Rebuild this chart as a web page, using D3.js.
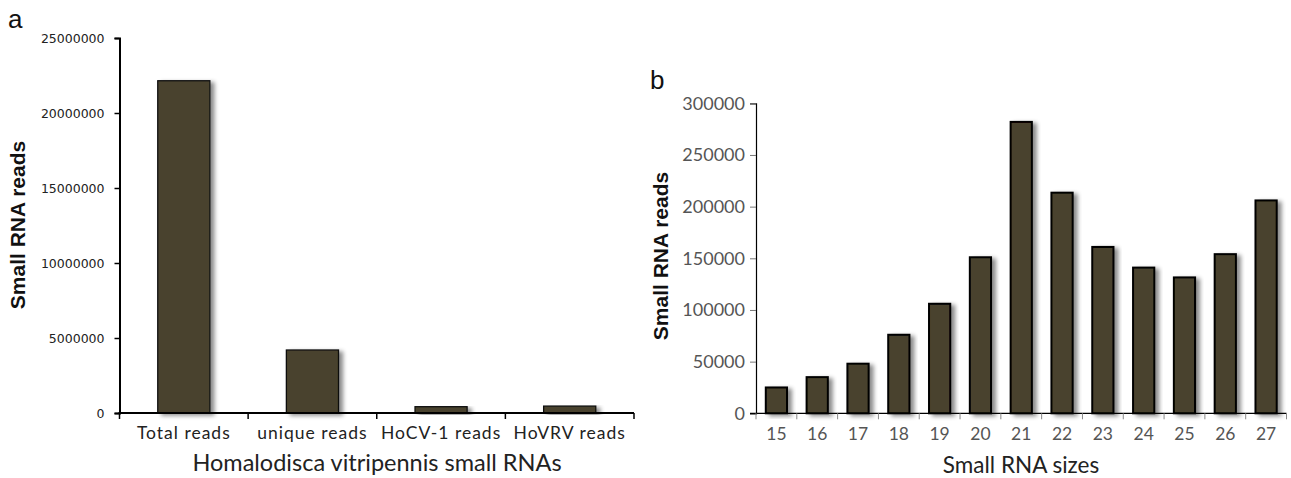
<!DOCTYPE html>
<html>
<head>
<meta charset="utf-8">
<script src="https://cdn.jsdelivr.net/npm/d3@7/dist/d3.min.js"></script>
<style>
  body { margin: 0; background: #fff; }
  svg { display: block; }
</style>
</head>
<body>
<svg id="chart" width="1291" height="478"></svg>
<script>
// Panel a data
const catsA = ["Total reads", "unique reads", "HoCV-1 reads", "HoVRV reads"];
const valsA = [22150000, 4200000, 420000, 460000];
const ticksA = [0, 5000000, 10000000, 15000000, 20000000, 25000000];

// Panel b data
const sizesB = ["15", "16", "17", "18", "19", "20", "21", "22", "23", "24", "25", "26", "27"];
const valsB = [25000, 35000, 48000, 76000, 106000, 151000, 282000, 213500, 161000, 141000, 131500, 154000, 206000];
const ticksB = [0, 50000, 100000, 150000, 200000, 250000, 300000];

const svg = d3.select("#chart");
const defs = svg.append("defs");
const f = defs.append("filter").attr("id", "shadow")
  .attr("x", "-20%").attr("y", "-10%").attr("width", "160%").attr("height", "130%");
f.append("feDropShadow").attr("dx", 4).attr("dy", 2).attr("stdDeviation", 2.2)
  .attr("flood-color", "#000").attr("flood-opacity", 0.45);

const barFill = "#4a432d";

// ---------- Panel a ----------
{
  const x = d3.scaleBand().domain(catsA).range([119.5, 634]).paddingInner(0.595).paddingOuter(0.2975);
  const xb = d3.scaleBand().domain(catsA).range([119.5, 634]);
  const y = d3.scaleLinear().domain([0, 25000000]).range([413, 38]);
  const g = svg.append("g");

  g.selectAll("rect.bar").data(valsA).join("rect")
    .attr("class", "bar")
    .attr("x", (d, i) => x(catsA[i]))
    .attr("width", x.bandwidth())
    .attr("y", d => y(d))
    .attr("height", d => y(0) - y(d))
    .attr("fill", barFill)
    .attr("stroke", "#111").attr("stroke-width", 1.3)
    .attr("filter", "url(#shadow)");

  const yAxis = g.append("g").attr("transform", "translate(119.5,0)")
    .call(d3.axisLeft(y).tickValues(ticksA).tickSize(5).tickPadding(10).tickFormat(d3.format("d")));
  yAxis.select(".domain").attr("stroke", "#000").attr("stroke-width", 2);
  yAxis.selectAll(".tick line").attr("stroke", "#000").attr("stroke-width", 1.5);
  yAxis.selectAll(".tick text").attr("font-family", "DejaVu Sans, sans-serif")
    .attr("font-size", 12.5).attr("fill", "#222");

  // x axis
  const xAxis = g.append("g").attr("transform", "translate(0,413)");
  xAxis.append("line").attr("x1", 118.5).attr("x2", 634).attr("stroke", "#000").attr("stroke-width", 2);
  const bounds = catsA.map(c => xb(c)).concat([xb.range()[1]]);
  xAxis.selectAll("line.tk").data(bounds).join("line").attr("class", "tk")
    .attr("x1", d => d).attr("x2", d => d).attr("y1", 0).attr("y2", 6)
    .attr("stroke", "#000").attr("stroke-width", 1.5);
  xAxis.selectAll("text").data(catsA).join("text")
    .attr("x", d => xb(d) + xb.bandwidth() / 2).attr("y", 25.5)
    .attr("text-anchor", "middle")
    .attr("font-family", "Lato, sans-serif").attr("font-size", 17.5)
    .attr("letter-spacing", 1).attr("fill", "#222")
    .text(d => d);

  g.append("text").attr("x", 377).attr("y", 470.5).attr("text-anchor", "middle")
    .attr("font-family", "Lato, sans-serif").attr("font-size", 23.5).attr("fill", "#222")
    .text("Homalodisca vitripennis small RNAs");

  g.append("text").attr("transform", "translate(25,225) rotate(-90)").attr("text-anchor", "middle")
    .attr("font-family", "Liberation Sans, Arial, sans-serif").attr("font-weight", "bold")
    .attr("font-size", 21).attr("fill", "#111").text("Small RNA reads");

  g.append("text").attr("x", 8).attr("y", 28)
    .attr("font-family", "Liberation Sans, Arial, sans-serif").attr("font-size", 26).attr("fill", "#111").text("a");
}

// ---------- Panel b ----------
{
  const xb = d3.scaleBand().domain(sizesB).range([756, 1286.5]);
  const x = d3.scaleBand().domain(sizesB).range([756, 1286.5]).paddingInner(0.48).paddingOuter(0.24);
  const y = d3.scaleLinear().domain([0, 300000]).range([413.3, 103.3]);
  const g = svg.append("g");

  g.selectAll("rect.bar").data(valsB).join("rect")
    .attr("class", "bar")
    .attr("x", (d, i) => x(sizesB[i]))
    .attr("width", x.bandwidth())
    .attr("y", d => y(d))
    .attr("height", d => y(0) - y(d))
    .attr("fill", barFill)
    .attr("stroke", "#000").attr("stroke-width", 2)
    .attr("filter", "url(#shadow)");

  const yAxis = g.append("g").attr("transform", "translate(756,0)")
    .call(d3.axisLeft(y).tickValues(ticksB).tickSize(6).tickPadding(5).tickFormat(d3.format("d")));
  yAxis.select(".domain").attr("stroke", "#000").attr("stroke-width", 1.2);
  yAxis.selectAll(".tick line").attr("stroke", "#777").attr("stroke-width", 1);
  yAxis.selectAll(".tick text").attr("font-family", "Lato, sans-serif")
    .attr("font-size", 18).attr("fill", "#555");

  const xAxis = g.append("g").attr("transform", "translate(0,413.3)");
  xAxis.append("line").attr("x1", 750).attr("x2", 1286.5).attr("stroke", "#000").attr("stroke-width", 1.2);
  const bounds = sizesB.map(c => xb(c)).concat([xb.range()[1]]);
  xAxis.selectAll("line.tk").data(bounds).join("line").attr("class", "tk")
    .attr("x1", d => d).attr("x2", d => d).attr("y1", 0).attr("y2", 6)
    .attr("stroke", "#888").attr("stroke-width", 1);
  xAxis.selectAll("text").data(sizesB).join("text")
    .attr("x", d => xb(d) + xb.bandwidth() / 2).attr("y", 27)
    .attr("text-anchor", "middle")
    .attr("font-family", "Lato, sans-serif").attr("font-size", 17.5).attr("fill", "#555")
    .text(d => d);

  g.append("text").attr("x", 1021).attr("y", 473).attr("text-anchor", "middle")
    .attr("font-family", "Lato, sans-serif").attr("font-size", 22.5).attr("fill", "#222")
    .text("Small RNA sizes");

  g.append("text").attr("transform", "translate(668,256) rotate(-90)").attr("text-anchor", "middle")
    .attr("font-family", "Liberation Sans, Arial, sans-serif").attr("font-weight", "bold")
    .attr("font-size", 21).attr("fill", "#111").text("Small RNA reads");

  g.append("text").attr("x", 650).attr("y", 89)
    .attr("font-family", "Liberation Sans, Arial, sans-serif").attr("font-size", 26).attr("fill", "#111").text("b");
}
</script>
</body>
</html>
